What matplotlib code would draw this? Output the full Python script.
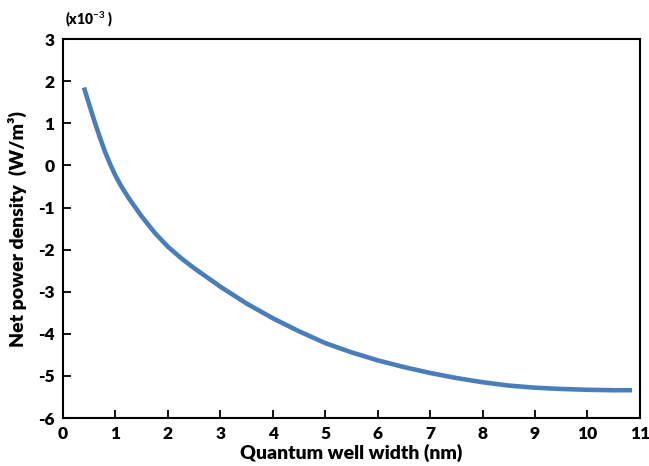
import matplotlib
matplotlib.use("Agg")
import matplotlib.pyplot as plt

plt.rcParams['font.family'] = ['Lato', 'DejaVu Sans']
plt.rcParams['font.weight'] = 'bold'
plt.rcParams['axes.unicode_minus'] = False
plt.rcParams['mathtext.fontset'] = 'custom'
plt.rcParams['mathtext.rm'] = 'Lato:bold'
plt.rcParams['mathtext.bf'] = 'Lato:bold'

# values (y in units of 1e-3 W/m^3)
width_nm = [0.4, 0.5, 0.6, 0.7, 0.8, 0.9, 1.0, 1.1, 1.25, 1.5, 1.75, 2.0, 2.25, 2.5, 2.75,
            3.0, 3.5, 4.0, 4.5, 5.0, 5.5, 6.0, 6.5, 7.0, 7.5, 8.0, 8.5, 9.0, 9.5, 10.0, 10.5, 10.85]
power = [1.85, 1.45, 1.05, 0.68, 0.33, 0.03, -0.24, -0.47, -0.77, -1.21, -1.6, -1.93, -2.2, -2.44, -2.66,
         -2.88, -3.28, -3.63, -3.94, -4.22, -4.44, -4.63, -4.79, -4.93, -5.05, -5.15, -5.23, -5.28, -5.31, -5.33, -5.34, -5.34]

fig = plt.figure(figsize=(6.49, 4.66), dpi=100)
ax = fig.add_axes([0.097, 0.103, 0.889, 0.813])

ax.plot(width_nm, power, color="#4a7ebb", linewidth=3.3, solid_capstyle="butt", solid_joinstyle="round")

ax.set_xlim(0, 11)
ax.set_ylim(-6, 3)
ax.set_xticks(range(0, 12))
ax.set_yticks(range(-6, 4))
ax.tick_params(direction="in", length=6, width=1.3, labelsize=12.5, pad=6)
for lab in ax.get_xticklabels() + ax.get_yticklabels():
    lab.set_fontweight("heavy")
for s in ax.spines.values():
    s.set_linewidth(1.5)

ax.set_xlabel("Quantum well width (nm)", fontsize=14, fontweight="heavy", labelpad=1)
ax.set_ylabel("Net power density  (W/m³)", fontsize=14, fontweight="heavy", labelpad=8)

fig.text(0.1, 0.958, r"(x10$^{-3}$ )", fontsize=10, fontweight="heavy", va="center", ha="left")

fig.savefig("out.png", dpi=100)
